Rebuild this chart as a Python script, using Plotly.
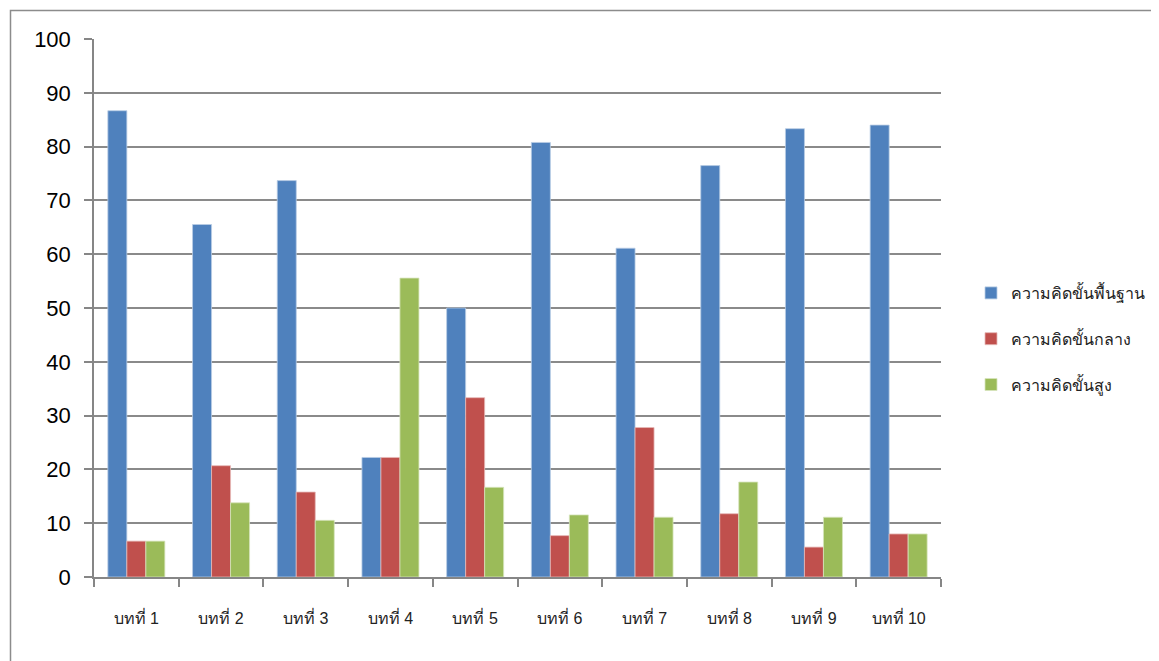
import plotly.graph_objects as go

categories = ["บทที่ 1", "บทที่ 2", "บทที่ 3", "บทที่ 4", "บทที่ 5",
              "บทที่ 6", "บทที่ 7", "บทที่ 8", "บทที่ 9", "บทที่ 10"]
basic = [86.67, 65.52, 73.68, 22.22, 50.0, 80.77, 61.11, 76.47, 83.33, 84.0]
middle = [6.67, 20.69, 15.79, 22.22, 33.33, 7.69, 27.78, 11.76, 5.56, 8.0]
high = [6.67, 13.79, 10.53, 55.56, 16.67, 11.54, 11.11, 17.65, 11.11, 8.0]
series_names = ["ความคิดขั้นพื้นฐาน", "ความคิดขั้นกลาง", "ความคิดขั้นสูง"]
colors = ["#4F81BD", "#C0504D", "#9BBB59"]
edge_colors = ["#B9CDE5", "#E6B9B8", "#D7E4BD"]
y_ticks = [0, 10, 20, 30, 40, 50, 60, 70, 80, 90, 100]

OFF = 8  # page body margin
W, H = 1159 - OFF, 661 - OFF
L, R, T, B = 94 - OFF, 941 - OFF, 39 - OFF, 577 - OFF

fig = go.Figure()
for i, (name, vals) in enumerate(zip(series_names, [basic, middle, high])):
    fig.add_trace(go.Bar(
        x=categories, y=vals, name=name, legendgroup=name,
        marker=dict(color=colors[i], line=dict(color=edge_colors[i], width=0.8)),
    ))

def px_x(p):
    return (p - OFF - L) / (R - L)

def px_y(p):
    return (B - (p - OFF)) / (B - T)

fig.update_layout(
    width=W, height=H,
    margin=dict(l=L, r=W - R, t=T, b=H - B, autoexpand=False),
    paper_bgcolor="white", plot_bgcolor="white",
    barmode="group", bargap=0.327, bargroupgap=0,
    font=dict(family="Liberation Sans, DejaVu Sans, sans-serif", color="black"),
    showlegend=True,
    legend=dict(
        xref="container", yref="container",
        x=(971 - OFF) / W, xanchor="left", y=1 - (339 - OFF) / H, yanchor="middle",
        traceorder="grouped", tracegroupgap=22,
        font=dict(size=16, color="#222222"),
        bgcolor="rgba(0,0,0,0)",
    ),
    xaxis=dict(
        type="category", tickson="boundaries", ticks="outside", ticklen=8,
        tickcolor="#868686", tickwidth=1.5,
        showline=True, linecolor="#868686", linewidth=1.5,
        showgrid=False, tickfont=dict(size=16, color="#222222"),
        ticklabelstandoff=26, range=[-0.5, 9.5],
    ),
    yaxis=dict(
        range=[0, 100], tickvals=y_ticks, ticks="outside", ticklen=8,
        tickcolor="#868686", tickwidth=1.5,
        showline=True, linecolor="#868686", linewidth=1.5,
        showgrid=True, gridcolor="#8a8a8a", gridwidth=1.6,
        zeroline=False, tickfont=dict(size=22, color="black"),
        ticklabelstandoff=9,
    ),
    shapes=[dict(
        type="rect", xref="paper", yref="paper",
        x0=px_x(10.5), x1=px_x(1175), y0=px_y(690), y1=px_y(10.5),
        line=dict(color="#8c8c8c", width=1.5), fillcolor="rgba(0,0,0,0)",
        layer="below",
    )],
)

fig.write_html("out.html")
